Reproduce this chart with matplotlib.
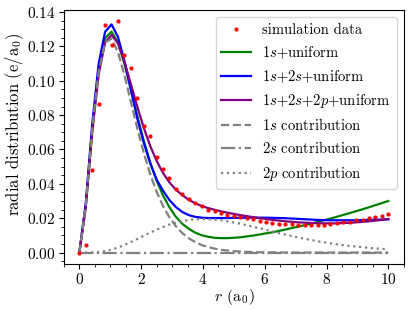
import numpy as np
import matplotlib
matplotlib.use("Agg")
import matplotlib.pyplot as plt
from matplotlib.ticker import AutoMinorLocator, MultipleLocator

plt.rcParams["font.family"] = "serif"
plt.rcParams["font.serif"] = ["cmr10", "DejaVu Serif"]
plt.rcParams["mathtext.fontset"] = "cm"
plt.rcParams["axes.formatter.use_mathtext"] = True
plt.rcParams["font.size"] = 10

# radial grid (units of a0), 49 bins from 0 to 10
r = np.linspace(0, 10, 49)

sim_data = [
    0.0, 0.0045, 0.048, 0.0863, 0.1324, 0.1207, 0.1345, 0.1149, 0.1075, 0.0898,
    0.0736, 0.0676, 0.0556, 0.0484, 0.0433, 0.0371, 0.0343, 0.0311, 0.0288, 0.0273,
    0.0245, 0.0243, 0.0231, 0.0219, 0.0212, 0.0208, 0.0202, 0.0194, 0.0184, 0.0175,
    0.0171, 0.0167, 0.0167, 0.0165, 0.0163, 0.0159, 0.0163, 0.0163, 0.0163, 0.0169,
    0.0171, 0.0178, 0.0178, 0.0187, 0.0188, 0.0202, 0.0206, 0.0213, 0.0222,
]

fit_1s_uniform = [
    0.0, 0.0272, 0.0718, 0.1064, 0.1248, 0.1286, 0.1223, 0.1099, 0.0949, 0.0796,
    0.0652, 0.0526, 0.0419, 0.0332, 0.0263, 0.0208, 0.0167, 0.0138, 0.0116, 0.0101,
    0.0092, 0.0086, 0.0084, 0.0084, 0.0086, 0.0089, 0.0094, 0.0099, 0.0105, 0.0112,
    0.0118, 0.0126, 0.0134, 0.0143, 0.0151, 0.0160, 0.0169, 0.0178, 0.0188, 0.0198,
    0.0208, 0.0219, 0.0230, 0.0241, 0.0252, 0.0264, 0.0276, 0.0288, 0.0300,
]

fit_1s_2s_uniform = [
    0.0, 0.029, 0.075, 0.110, 0.1285, 0.1328, 0.1255, 0.1115, 0.095, 0.078,
    0.064, 0.052, 0.0425, 0.0360, 0.0305, 0.0265, 0.0236, 0.0218, 0.0208, 0.0203,
    0.0201, 0.0201, 0.0201, 0.0201, 0.0202, 0.0202, 0.0203, 0.0203, 0.0203, 0.0203,
    0.0202, 0.0201, 0.0200, 0.0198, 0.0196, 0.0194, 0.0192, 0.0190, 0.0189, 0.0188,
    0.0188, 0.0188, 0.0188, 0.0188, 0.0189, 0.0190, 0.0191, 0.0192, 0.0194,
]

fit_1s_2s_2p_uniform = [
    0.0, 0.0265, 0.0698, 0.1038, 0.1222, 0.1267, 0.1217, 0.1111, 0.0981, 0.0849,
    0.0727, 0.0621, 0.0534, 0.0463, 0.0408, 0.0366, 0.0334, 0.0307, 0.0287, 0.0271,
    0.0259, 0.0249, 0.0240, 0.0232, 0.0225, 0.0218, 0.0212, 0.0206, 0.0200, 0.0195,
    0.0190, 0.0186, 0.0182, 0.0179, 0.0176, 0.0174, 0.0172, 0.0171, 0.0170, 0.0170,
    0.0170, 0.0172, 0.0173, 0.0176, 0.0179, 0.0182, 0.0186, 0.0190, 0.0195,
]

contrib_1s = [
    0.0, 0.0277, 0.0722, 0.1057, 0.1223, 0.1245, 0.1166, 0.1033, 0.0878, 0.0723,
    0.0581, 0.0457, 0.0354, 0.0271, 0.0204, 0.0153, 0.0113, 0.0083, 0.0061, 0.0044,
    0.0032, 0.0023, 0.0016, 0.0012, 0.0008, 0.0006, 0.0004, 0.0003, 0.0002, 0.0001,
    0.0001, 0.0001, 0.0, 0.0, 0.0, 0.0, 0.0, 0.0, 0.0, 0.0,
    0.0, 0.0, 0.0, 0.0, 0.0, 0.0, 0.0, 0.0, 0.0,
]

contrib_2s = [0.0] * 49

contrib_2p = [
    0.0, 0.0, 0.0001, 0.0003, 0.0009, 0.0017, 0.0029, 0.0044, 0.0061, 0.0079,
    0.0098, 0.0116, 0.0133, 0.0149, 0.0163, 0.0174, 0.0183, 0.0190, 0.0194, 0.0195,
    0.0194, 0.0192, 0.0188, 0.0182, 0.0175, 0.0168, 0.0159, 0.0150, 0.0141, 0.0132,
    0.0123, 0.0113, 0.0105, 0.0096, 0.0088, 0.0080, 0.0073, 0.0066, 0.0060, 0.0054,
    0.0048, 0.0043, 0.0039, 0.0035, 0.0031, 0.0027, 0.0024, 0.0021, 0.0019,
]

fig = plt.figure(figsize=(4.15, 3.10), dpi=100)
ax = fig.add_axes([0.154, 0.148, 0.819, 0.820])

ax.plot(r, sim_data, ".", color="red", markersize=4, zorder=5, label="simulation data")
ax.plot(r, fit_1s_uniform, color="green", linewidth=1.6, label=r"$1s$+uniform")
ax.plot(r, fit_1s_2s_uniform, color="blue", linewidth=1.6, label=r"$1s$+$2s$+uniform")
ax.plot(r, fit_1s_2s_2p_uniform, color="purple", linewidth=1.6,
        label=r"$1s$+$2s$+$2p$+uniform")
ax.plot(r, contrib_1s, "--", color="gray", linewidth=1.6, label=r"$1s$ contribution")
ax.plot(r, contrib_2s, "-.", color="gray", linewidth=1.6, label=r"$2s$ contribution")
ax.plot(r, contrib_2p, ":", color="gray", linewidth=1.6, label=r"$2p$ contribution")

ax.set_xlabel(r"$r$ (a$_0$)", fontsize=11.5)
ax.set_ylabel(r"radial distribution (e/a$_0$)", fontsize=12)
ax.xaxis.set_label_coords(0.5, -0.09)
ax.yaxis.set_label_coords(-0.113, 0.55)
ax.xaxis.set_major_locator(MultipleLocator(2))
ax.yaxis.set_major_locator(MultipleLocator(0.02))
ax.xaxis.set_minor_locator(AutoMinorLocator())
ax.yaxis.set_minor_locator(AutoMinorLocator())
ax.tick_params(labelsize=11)
ax.tick_params(axis="x", pad=2.5)
ax.tick_params(axis="y", pad=2.5)
ax.legend(loc="upper right", fontsize=10.5)

fig.savefig("out.png", dpi=100)
